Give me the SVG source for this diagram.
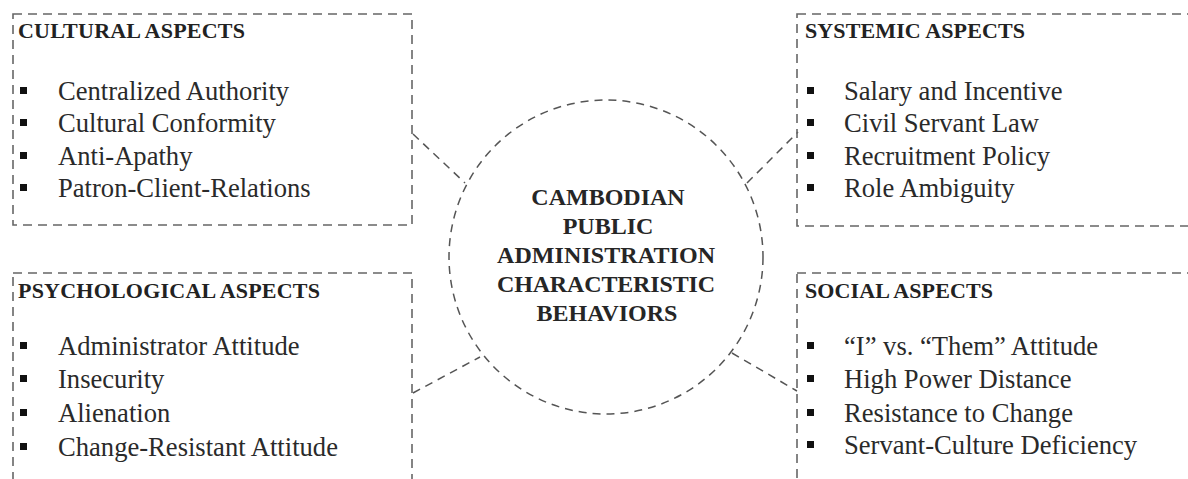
<svg xmlns="http://www.w3.org/2000/svg" width="1188" height="479" viewBox="0 0 1188 479">
<style>
.box{fill:none;stroke:#666;stroke-width:1.6;stroke-dasharray:9 6}
.conn{fill:none;stroke:#555;stroke-width:1.5;stroke-dasharray:8 6}
.hdr{font-family:"Liberation Serif",serif;font-weight:bold;font-size:22px;fill:#222}
.item{font-family:"Liberation Serif",serif;font-size:26.6px;fill:#2a2a2a}
.ctr{font-family:"Liberation Serif",serif;font-weight:bold;font-size:24px;fill:#262626;text-anchor:middle}
.bul{fill:#111}
</style>
<rect width="1188" height="479" fill="#ffffff"/>
<g id="connectors">
<line class="conn" x1="413" y1="134" x2="465" y2="183"/>
<line class="conn" x1="747" y1="183" x2="798" y2="132"/>
<line class="conn" x1="413" y1="393" x2="480" y2="357"/>
<line class="conn" x1="732" y1="353" x2="797" y2="391"/>
</g>
<g id="center">
<circle class="conn" cx="606" cy="257" r="157"/>
<text class="ctr" x="608" y="205">CAMBODIAN</text>
<text class="ctr" x="608" y="234">PUBLIC</text>
<text class="ctr" x="606" y="263" textLength="218" lengthAdjust="spacing">ADMINISTRATION</text>
<text class="ctr" x="606" y="292" textLength="218" lengthAdjust="spacing">CHARACTERISTIC</text>
<text class="ctr" x="607" y="321">BEHAVIORS</text>
</g>
<g id="cultural">
<rect class="box" x="13" y="14" width="399" height="211"/>
<text class="hdr" x="18" y="38" textLength="227" lengthAdjust="spacing">CULTURAL ASPECTS</text>
<rect class="bul" x="20" y="87" width="7" height="7"/>
<text class="item" x="58" y="100">Centralized Authority</text>
<rect class="bul" x="20" y="119" width="7" height="7"/>
<text class="item" x="58" y="132">Cultural Conformity</text>
<rect class="bul" x="20" y="152" width="7" height="7"/>
<text class="item" x="58" y="165">Anti-Apathy</text>
<rect class="bul" x="20" y="184" width="7" height="7"/>
<text class="item" x="58" y="197">Patron-Client-Relations</text>
</g>
<g id="systemic">
<rect class="box" x="797" y="14" width="420" height="212"/>
<text class="hdr" x="805" y="38" textLength="220" lengthAdjust="spacing">SYSTEMIC ASPECTS</text>
<rect class="bul" x="807" y="87" width="7" height="7"/>
<text class="item" x="844" y="100">Salary and Incentive</text>
<rect class="bul" x="807" y="119" width="7" height="7"/>
<text class="item" x="844" y="132">Civil Servant Law</text>
<rect class="bul" x="807" y="152" width="7" height="7"/>
<text class="item" x="844" y="165">Recruitment Policy</text>
<rect class="bul" x="807" y="184" width="7" height="7"/>
<text class="item" x="844" y="197">Role Ambiguity</text>
</g>
<g id="psychological">
<rect class="box" x="13" y="273" width="399" height="230"/>
<text class="hdr" x="18" y="298" textLength="302" lengthAdjust="spacing">PSYCHOLOGICAL ASPECTS</text>
<rect class="bul" x="20" y="342" width="7" height="7"/>
<text class="item" x="58" y="355">Administrator Attitude</text>
<rect class="bul" x="20" y="375" width="7" height="7"/>
<text class="item" x="58" y="388">Insecurity</text>
<rect class="bul" x="20" y="409" width="7" height="7"/>
<text class="item" x="58" y="422">Alienation</text>
<rect class="bul" x="20" y="443" width="7" height="7"/>
<text class="item" x="58" y="456">Change-Resistant Attitude</text>
</g>
<g id="social">
<rect class="box" x="797" y="273" width="420" height="230"/>
<text class="hdr" x="805" y="298" textLength="188" lengthAdjust="spacing">SOCIAL ASPECTS</text>
<rect class="bul" x="807" y="342" width="7" height="7"/>
<text class="item" x="844" y="355">“I” vs. “Them” Attitude</text>
<rect class="bul" x="807" y="375" width="7" height="7"/>
<text class="item" x="844" y="388">High Power Distance</text>
<rect class="bul" x="807" y="409" width="7" height="7"/>
<text class="item" x="844" y="422">Resistance to Change</text>
<rect class="bul" x="807" y="441" width="7" height="7"/>
<text class="item" x="844" y="454">Servant-Culture Deficiency</text>
</g>
</svg>
